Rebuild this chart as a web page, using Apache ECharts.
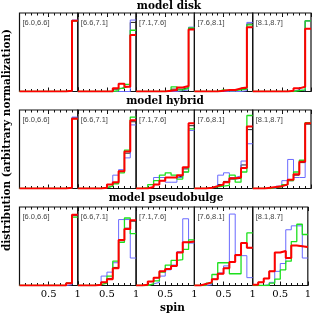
<!DOCTYPE html>
<html><head><meta charset="utf-8">
<script src="https://cdn.jsdelivr.net/npm/echarts@6/dist/echarts.min.js"></script>
<style>html,body{margin:0;padding:0;background:#fff}#c{width:314px;height:315px}</style>
</head><body><div id="c"></div><script>
// ---- data ----
const binStarts = [0,0.1,0.2,0.3,0.4,0.5,0.6,0.7,0.8,0.9];
const binEnd = 1.0;
const massLabels = ['[6.0,6.6]','[6.6,7.1]','[7.1,7.6]','[7.6,8.1]','[8.1,8.7]'];
const modelTitles = ['model disk','model hybrid','model pseudobulge'];
const xTickValues = [0.5, 1];
const xTickText = ['0.5', '1'];
const xAxisTitle = 'spin';
const yAxisTitle = 'distribution (arbitrary normalization)';

const diskBlack = [
  [0,0,0,0,0,0,0,0,0.01,0.90],
  [0,0,0,0,0,0,0.03,0.05,0.07,0.88],
  [0,0,0,0,0,0,0.03,0.03,0.05,0.80],
  [0,0,0,0,0.01,0.01,0.02,0.03,0.04,0.86],
  [0,0,0,0,0,0,0,0.02,0.05,0.90]];
const diskBlue = [
  [0,0,0,0,0,0,0,0,0,0.91],
  [0,0,0,0,0,0,0,0,0,0.91],
  [0,0,0,0,0,0,0,0.01,0.02,0.82],
  [0,0,0,0,0,0,0,0,0.01,0.88],
  [0,0,0,0,0,0,0,0.02,0.01,0.90]];
const diskGreen = [
  [0,0,0,0,0,0,0,0,0.01,0.90],
  [0,0,0,0,0,0,0.01,0.04,0.09,0.78],
  [0,0,0,0,0,0.01,0.06,0.02,0.04,0.81],
  [0,0,0,0,0.02,0.01,0.01,0.02,0.03,0.85],
  [0,0,0,0,0,0,0,0.01,0.02,0.90]];
const diskRed = [
  [0,0,0,0,0,0,0,0,0.01,0.90],
  [0,0,0,0,0,0,0.04,0.10,0.06,0.72],
  [0,0,0,0,0,0.01,0.02,0.05,0.07,0.79],
  [0,0,0,0,0.01,0.02,0.02,0.04,0.05,0.82],
  [0,0,0,0,0,0,0.01,0.04,0.06,0.80]];

const hybridBlack = [
  [0,0,0,0,0,0,0,0,0.01,0.90],
  [0,0,0,0,0.01,0.03,0.07,0.22,0.45,0.85],
  [0,0,0.01,0.05,0.10,0.14,0.14,0.16,0.25,0.80],
  [0,0,0,0.02,0.05,0.09,0.12,0.13,0.30,0.75],
  [0,0,0,0.01,0.03,0.05,0.10,0.17,0.33,0.82]];
const hybridBlue = [
  [0,0,0,0,0,0,0,0,0,0.91],
  [0,0,0,0,0.01,0.05,0.17,0.24,0.39,0.81],
  [0,0,0.02,0.14,0.14,0.08,0.08,0.14,0.21,0.74],
  [0,0,0.01,0.03,0.17,0.20,0.14,0.16,0.35,0.57],
  [0,0,0,0,0.03,0.10,0.37,0.14,0.14,0.83]];
const hybridGreen = [
  [0,0,0,0,0,0,0,0,0.01,0.89],
  [0,0,0,0,0.01,0.03,0.06,0.20,0.49,0.91],
  [0,0.01,0.05,0.10,0.17,0.20,0.17,0.12,0.21,0.76],
  [0,0,0.01,0.02,0.03,0.04,0.17,0.08,0.21,0.93],
  [0,0,0,0.01,0.02,0.05,0.10,0.21,0.36,0.84]];
const hybridRed = [
  [0,0,0,0,0,0,0,0,0.01,0.89],
  [0,0,0,0,0.01,0.05,0.08,0.22,0.47,0.87],
  [0,0,0.02,0.05,0.10,0.14,0.14,0.17,0.27,0.83],
  [0,0,0.01,0.03,0.05,0.08,0.13,0.14,0.26,0.79],
  [0,0,0.01,0.02,0.03,0.05,0.11,0.18,0.34,0.83]];

const pseudoBlack = [
  [0,0,0,0,0,0,0,0,0.03,0.89],
  [0,0,0,0.01,0.04,0.09,0.23,0.57,0.73,0.82],
  [0,0.01,0.05,0.10,0.18,0.21,0.25,0.42,0.55,0.56],
  [0,0.02,0.04,0.08,0.15,0.22,0.30,0.39,0.54,0.48],
  [0.01,0.04,0.09,0.18,0.42,0.44,0.35,0.51,0.50,0.49]];
const pseudoBlue = [
  [0,0,0,0,0,0,0,0,0.01,0.90],
  [0,0,0,0.01,0.12,0.17,0.29,0.84,0.84,0.35],
  [0,0,0.02,0.04,0.12,0.20,0.26,0.43,0.85,0.54],
  [0,0,0.01,0.08,0.16,0.25,0.91,0.38,0.38,0.10],
  [0,0,0.01,0.04,0.18,0.28,0.71,0.76,0.76,0.35]];
const pseudoGreen = [
  [0,0,0,0,0,0,0,0,0.03,0.87],
  [0,0,0,0.01,0.03,0.12,0.31,0.55,0.86,0.66],
  [0,0,0.02,0.06,0.17,0.26,0.32,0.33,0.46,0.58],
  [0,0,0.03,0.14,0.29,0.29,0.15,0.15,0.54,0.67],
  [0,0,0,0.03,0.08,0.20,0.31,0.56,0.78,0.65]];
const pseudoRed = [
  [0,0,0,0,0,0,0,0,0.03,0.90],
  [0,0,0,0.01,0.04,0.08,0.22,0.58,0.72,0.83],
  [0,0.01,0.05,0.10,0.18,0.21,0.25,0.42,0.55,0.56],
  [0,0.02,0.04,0.08,0.15,0.22,0.30,0.39,0.54,0.48],
  [0.01,0.04,0.09,0.18,0.42,0.44,0.35,0.51,0.50,0.49]];

// ---- layout / style ----
const rowsData = [
  [diskBlack, diskBlue, diskGreen, diskRed],
  [hybridBlack, hybridBlue, hybridGreen, hybridRed],
  [pseudoBlack, pseudoBlue, pseudoGreen, pseudoRed]];
const lineColors = ['#222222', '#6a6aff', '#1de01d', '#ff0000'];
const lineWidths = [1, 1, 1.3, 2];
const L = 19.5, R = 311, rowTops = [13, 110, 207], rowH = 78.5;
const pw = (R - L) / 5;
const titleCenters = [[169, 6.5], [165, 101], [166, 198.5]];
const serif = '"DejaVu Serif", "Liberation Serif", serif';

const grid = [], xAxis = [], yAxis = [], series = [], graphic = [];
for (let r = 0; r < 3; r++) {
  for (let c = 0; c < 5; c++) {
    const gi = r * 5 + c;
    const left = L + c * pw;
    grid.push({left: left, top: rowTops[r], width: pw, height: rowH,
      show: true, borderColor: '#111', borderWidth: 1.2, backgroundColor: 'transparent'});
    const baseX = {type: 'value', gridIndex: gi, min: 0, max: 1, interval: 0.5,
      axisLine: {show: false}, splitLine: {show: false},
      axisTick: {show: true, inside: true, length: 4, lineStyle: {color: '#111', width: 1}},
      minorTick: {show: true, splitNumber: 5, length: 2.5, lineStyle: {color: '#111', width: 1}},
      minorSplitLine: {show: false}};
    xAxis.push(Object.assign({}, baseX, {position: 'bottom',
      axisLabel: {show: r === 2, margin: 4, fontFamily: serif, fontSize: 10, color: '#000',
        formatter: v => { const k = xTickValues.findIndex(t => Math.abs(t - v) < 1e-9); return k >= 0 ? xTickText[k] : ''; }}}));
    xAxis.push(Object.assign({}, baseX, {position: 'top', axisLabel: {show: false}}));
    yAxis.push({type: 'value', gridIndex: gi, min: 0, max: 1, show: false});
    for (let s = 0; s < 4; s++) {
      const vals = rowsData[r][s][c];
      const data = binStarts.map((x, i) => [x, vals[i]]);
      data.push([binEnd, vals[vals.length - 1]]);
      series.push({type: 'line', step: 'end', xAxisIndex: gi * 2, yAxisIndex: gi,
        data: data, symbol: 'none', silent: true, z: 2 + s,
        lineStyle: {color: lineColors[s], width: lineWidths[s]}});
    }
    graphic.push({type: 'text', left: left + 3, top: rowTops[r] + 6,
      style: {text: massLabels[c], font: '7.5px "Liberation Sans", Arial, sans-serif', fill: '#444'}});
  }
  graphic.push({type: 'text', x: titleCenters[r][0], y: titleCenters[r][1],
    style: {text: modelTitles[r], font: 'bold 10.5px ' + serif, fill: '#000', textAlign: 'center', textVerticalAlign: 'middle'}});
}
graphic.push({type: 'text', x: 172.5, y: 308,
  style: {text: xAxisTitle, font: 'bold 10.5px ' + serif, fill: '#000', textAlign: 'center', textVerticalAlign: 'middle'}});
graphic.push({type: 'text', x: 7, y: 140, rotation: Math.PI / 2,
  style: {text: yAxisTitle, font: 'bold 10.5px ' + serif, fill: '#000', textAlign: 'center', textVerticalAlign: 'middle'}});

const chart = echarts.init(document.getElementById('c'), null, {renderer: 'canvas'});
chart.setOption({animation: false, backgroundColor: '#fff', grid, xAxis, yAxis, series, graphic});
</script></body></html>
